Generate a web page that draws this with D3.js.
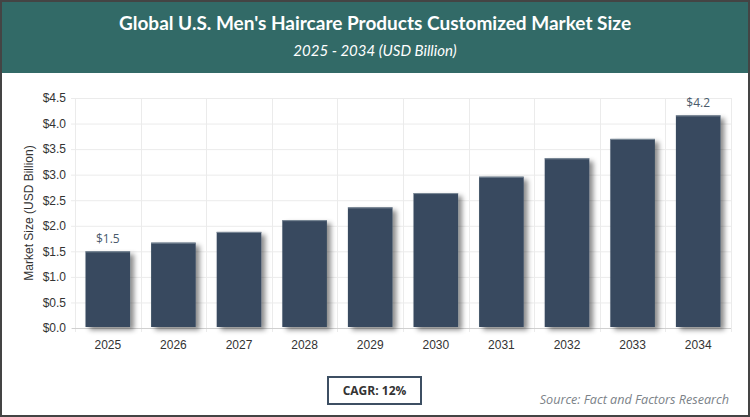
<!DOCTYPE html>
<html>
<head>
<meta charset="utf-8">
<script src="https://cdn.jsdelivr.net/npm/d3@7"></script>
<style>
  html, body { margin: 0; padding: 0; background: #fff; }
  svg { display: block; }
</style>
</head>
<body>
<script>
// chart data
var years = ['2025', '2026', '2027', '2028', '2029', '2030', '2031', '2032', '2033', '2034'];
var marketSize = [1.5, 1.67, 1.88, 2.11, 2.36, 2.64, 2.96, 3.32, 3.70, 4.16];
var yTicks = [0, 0.5, 1, 1.5, 2, 2.5, 3, 3.5, 4, 4.5];
var labelledYears = ['2025', '2034'];

var titleText = "Global U.S. Men's Haircare Products Customized Market Size";
var subtitleText = '2025 - 2034 (USD Billion)';
var yAxisTitle = 'Market Size (USD Billion)';
var cagrText = 'CAGR: 12%';
var sourceText = 'Source: Fact and Factors Research';

var width = 750;
var height = 417;
var margin = {top: 98, right: 19, bottom: 89, left: 75};

var svg = d3.select('body')
  .append('svg')
    .attr('width', width)
    .attr('height', height);

// drop shadow behind the bars
var defs = svg.append('defs');
var shadow = defs.append('filter')
    .attr('id', 'barShadow')
    .attr('x', '-20%').attr('y', '-20%')
    .attr('width', '160%').attr('height', '140%');
shadow.append('feDropShadow')
    .attr('dx', 4).attr('dy', 3)
    .attr('stdDeviation', 2.5)
    .attr('flood-color', '#000')
    .attr('flood-opacity', 0.45);

// frame + header band
svg.append('rect')
    .attr('x', 0).attr('y', 0)
    .attr('width', width).attr('height', height)
    .attr('fill', '#fff');

svg.append('rect')
    .attr('x', 0).attr('y', 0)
    .attr('width', width).attr('height', 73)
    .attr('fill', '#326a67');

svg.append('text')
    .attr('x', width / 2).attr('y', 30)
    .attr('text-anchor', 'middle')
    .attr('font-family', 'Lato, "Open Sans", sans-serif')
    .attr('font-weight', 'bold')
    .attr('font-size', 19)
    .attr('fill', '#fff')
    .text(titleText);

svg.append('text')
    .attr('x', width / 2).attr('y', 56)
    .attr('text-anchor', 'middle')
    .attr('font-family', 'Lato, "Open Sans", sans-serif')
    .attr('font-style', 'italic')
    .attr('font-size', 15)
    .attr('fill', '#fff')
    .text(subtitleText);

var plotW = width - margin.left - margin.right;
var plotH = height - margin.top - margin.bottom;

var x = d3.scaleBand()
    .domain(years)
    .range([0, plotW])
    .paddingInner(0.32)
    .paddingOuter(0.16);

var y = d3.scaleLinear()
    .domain([0, 4.5])
    .range([plotH, 0]);

var g = svg.append('g')
    .attr('transform', 'translate(' + margin.left + ',' + margin.top + ')');

// horizontal grid
g.append('g')
  .selectAll('line')
  .data(yTicks)
  .join('line')
    .attr('x1', -4).attr('x2', plotW)
    .attr('y1', function(d) { return y(d) + 0.5; })
    .attr('y2', function(d) { return y(d) + 0.5; })
    .attr('stroke', '#ebebeb');

// vertical grid on category boundaries
var step = x.step();
var bounds = d3.range(years.length + 1).map(function(i) { return i * step; });
g.append('g')
  .selectAll('line')
  .data(bounds)
  .join('line')
    .attr('x1', function(d) { return Math.round(d) + 0.5; })
    .attr('x2', function(d) { return Math.round(d) + 0.5; })
    .attr('y1', 0).attr('y2', plotH + 4)
    .attr('stroke', '#ebebeb');

// y axis labels
var yAxis = d3.axisLeft(y)
    .tickValues(yTicks)
    .tickSize(0)
    .tickPadding(9)
    .tickFormat(function(d) { return '$' + d3.format('.1f')(d); });

g.append('g')
    .attr('class', 'y axis')
    .call(yAxis)
    .call(function(sel) { sel.select('.domain').remove(); })
    .selectAll('text')
      .attr('font-family', '"Liberation Sans", Arial, sans-serif')
      .attr('font-size', 12)
      .attr('fill', '#333');

// x axis
var xAxis = d3.axisBottom(x)
    .tickSize(0)
    .tickPadding(12);

var xg = g.append('g')
    .attr('class', 'x axis')
    .attr('transform', 'translate(0,' + plotH + ')')
    .call(xAxis);
xg.select('.domain')
    .attr('stroke', '#d0d0d0')
    .attr('d', 'M-3,0.5H' + plotW);
xg.selectAll('text')
    .attr('font-family', '"Liberation Sans", Arial, sans-serif')
    .attr('font-size', 12)
    .attr('fill', '#333');

// bars
g.append('g')
  .selectAll('rect')
  .data(marketSize)
  .join('rect')
    .attr('x', function(d, i) { return x(years[i]); })
    .attr('y', function(d) { return y(d); })
    .attr('width', x.bandwidth())
    .attr('height', function(d) { return y(0) - y(d) - 1; })
    .attr('fill', '#374a5f')
    .attr('filter', 'url(#barShadow)');

// top edge highlight
g.append('g')
  .selectAll('line')
  .data(marketSize)
  .join('line')
    .attr('x1', function(d, i) { return x(years[i]); })
    .attr('x2', function(d, i) { return x(years[i]) + x.bandwidth(); })
    .attr('y1', function(d) { return y(d) + 0.5; })
    .attr('y2', function(d) { return y(d) + 0.5; })
    .attr('stroke', '#7d8b99')
    .attr('stroke-width', 1);

// value labels on first and last bar
g.append('g')
  .selectAll('text')
  .data(marketSize.filter(function(d, i) { return labelledYears.indexOf(years[i]) >= 0; }))
  .join('text')
    .attr('x', function(d) { return x(years[marketSize.indexOf(d)]) + x.bandwidth() / 2; })
    .attr('y', function(d) { return y(d) - 8; })
    .attr('text-anchor', 'middle')
    .attr('font-family', '"Open Sans", sans-serif')
    .attr('font-size', 12)
    .attr('fill', '#4a5a6b')
    .text(function(d) { return '$' + d3.format('.1f')(d); });

// y axis title
svg.append('text')
    .attr('transform', 'translate(33,' + (margin.top + plotH / 2) + ') rotate(-90)')
    .attr('text-anchor', 'middle')
    .attr('font-family', '"Liberation Sans", Arial, sans-serif')
    .attr('font-size', 12)
    .attr('fill', '#333')
    .text(yAxisTitle);

// CAGR box
svg.append('rect')
    .attr('x', 328).attr('y', 377)
    .attr('width', 93).attr('height', 27)
    .attr('fill', '#fff')
    .attr('stroke', '#3d4f63')
    .attr('stroke-width', 2);

svg.append('text')
    .attr('x', 374.5).attr('y', 395)
    .attr('text-anchor', 'middle')
    .attr('font-family', '"Open Sans", sans-serif')
    .attr('font-weight', 'bold')
    .attr('font-size', 12)
    .attr('fill', '#333')
    .text(cagrText);

// source note
svg.append('text')
    .attr('x', 729).attr('y', 404)
    .attr('text-anchor', 'end')
    .attr('font-family', '"Open Sans", sans-serif')
    .attr('font-style', 'italic')
    .attr('font-size', 12.6)
    .attr('fill', '#7b8288')
    .text(sourceText);

// outer border
svg.append('rect')
    .attr('x', 1).attr('y', 1)
    .attr('width', width - 2).attr('height', height - 2)
    .attr('fill', 'none')
    .attr('stroke', '#444')
    .attr('stroke-width', 2);
</script>
</body>
</html>
